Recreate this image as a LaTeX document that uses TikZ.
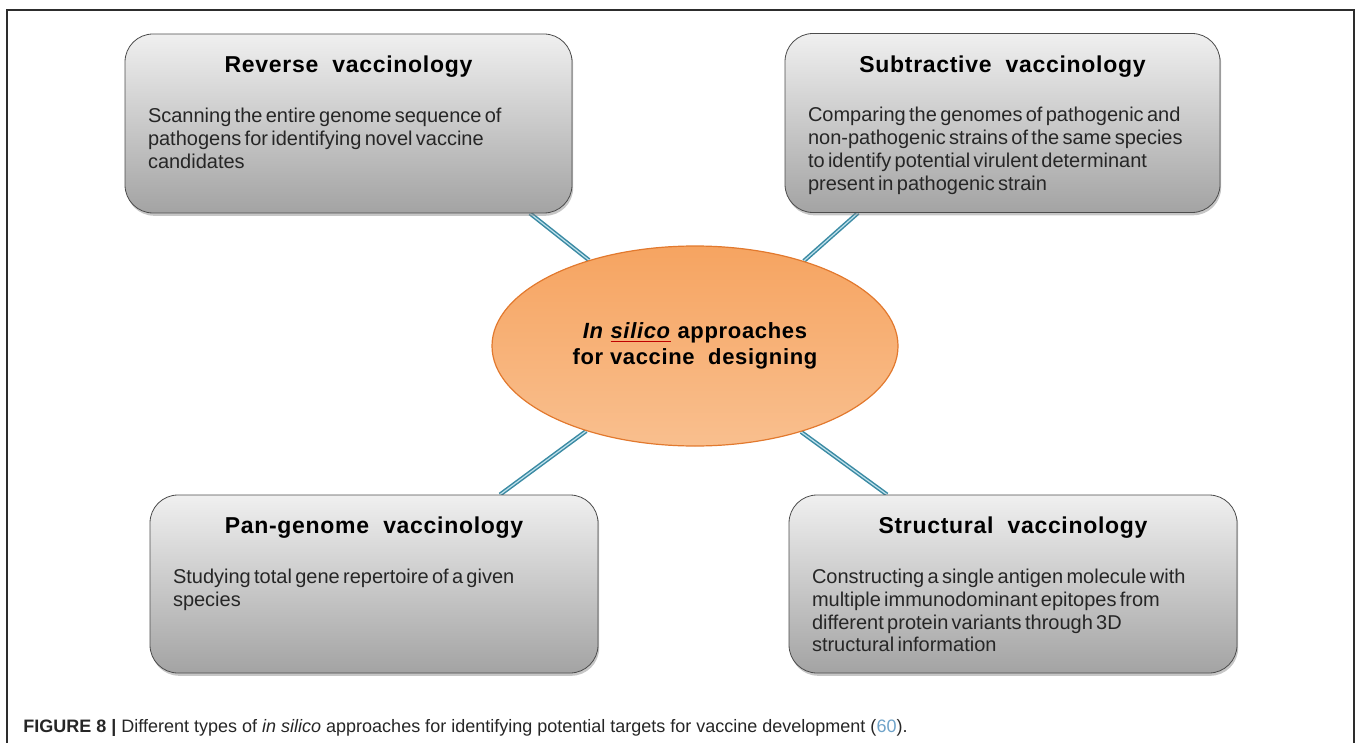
\documentclass[tikz,border=0pt]{standalone}
\usepackage{fontspec}
\setmainfont{Liberation Sans}
\newfontfamily\bodyfont{Liberation Sans}[WordSpace=0.6]
\newfontfamily\headfont{Liberation Sans}[LetterSpace=3]
\usepackage{xcolor}
\usepackage{tikz}
\usetikzlibrary{calc}
\usetikzlibrary{backgrounds}
\usetikzlibrary{shapes.geometric}
\usetikzlibrary{shadows}
\usetikzlibrary{positioning}

\definecolor{linkteal}{HTML}{3A8AA3}
\definecolor{linklight}{HTML}{BFE1EC}
\definecolor{ovaltop}{HTML}{F6A461}
\definecolor{ovalmid}{HTML}{F5974B}
\definecolor{ovalbot}{HTML}{F9BF8E}
\definecolor{ovaledge}{HTML}{E2792E}
\definecolor{refblue}{HTML}{6FA3C9}

\newcommand{\redline}[1]{\textcolor{red!75!black}{\underline{\textcolor{black}{#1}}}}

\begin{document}
\begin{tikzpicture}[x=0.5pt,y=-0.5pt]
    \tikzstyle{every node}=[inner sep=0pt]
    \tikzstyle{abox}=[draw=gray!60!black,rounded corners=14pt,top color=gray!12,middle color=gray!24,bottom color=gray!72,
                      drop shadow={shadow xshift=0.6pt,shadow yshift=-1.4pt,opacity=0.45}]
    \tikzstyle{atitle}=[font=\headfont\fontsize{11.5}{13}\selectfont\bfseries]
    \tikzstyle{atext}=[font=\bodyfont\fontsize{10}{11.4}\selectfont,align=left,anchor=north west,text=black!85]
    \tikzstyle{link}=[draw=linkteal,line width=0.75pt,double=linklight,double distance=0.6pt]

    \useasboundingbox (0,0) rectangle (1358,743);
    \draw[gray!35!black,line width=0.7pt] (7,743) -- (7,10) -- (1354,10) -- (1354,743);

    % one rounded box per approach: name, centre, width, height, title, text
    \newcommand{\approachbox}[6]{%
      \node[abox,minimum width=#3,minimum height=#4] (#1) at #2 {};
      \node[atitle] (#1title) at ([yshift=-16.7pt]#1.north) {#5};
      \node[atext] (#1text) at ([xshift=11.5pt,yshift=-37pt]#1.north west) {#6};}

    \approachbox{reverse}{(348.5,123.5)}{223.5pt}{89.5pt}{Reverse\ \ vaccinology}
      {Scanning the entire genome sequence of\\pathogens for identifying novel vaccine\\candidates}
    \approachbox{subtract}{(1002.5,123)}{217.5pt}{89.5pt}{Subtractive\ \ vaccinology}
      {Comparing the genomes of pathogenic and\\non-pathogenic strains of the same species\\to identify potential virulent determinant\\present in pathogenic strain}
    \approachbox{pangenome}{(374,584)}{224pt}{89pt}{Pan-genome\ \ vaccinology}
      {Studying total gene repertoire of a given\\species}
    \approachbox{structural}{(1013,584)}{224pt}{89pt}{Structural\ \ vaccinology}
      {Constructing a single antigen molecule with\\multiple immunodominant epitopes from\\different protein variants through 3D\\structural information}

    \node[ellipse,draw=ovaledge,line width=0.6pt,top color=ovaltop,middle color=ovalmid,bottom color=ovalbot,
          minimum width=203pt,minimum height=100pt,align=center,
          font=\headfont\fontsize{11}{13}\selectfont\bfseries] (insilico) at (695,346)
          {\textit{In} \redline{\textit{silico}} approaches\\for vaccine\ \ designing};

    \begin{scope}[on background layer]
      \draw[link] ([xshift=90.75pt]reverse.south) -- (insilico.141);
      \draw[link] ([xshift=-72.25pt]subtract.south) -- (insilico.38);
      \draw[link] ([xshift=63pt]pangenome.north) -- (insilico.218);
      \draw[link] ([xshift=-63pt]structural.north) -- (insilico.321);
    \end{scope}

    \node[anchor=west,font=\fontsize{9}{10}\selectfont,text=black!85] (caption) at (23,728)
      {\textbf{FIGURE 8 |} Different types of \textit{in silico} approaches for identifying potential targets for vaccine development (\textcolor{refblue}{60}).};
\end{tikzpicture}
\end{document}
